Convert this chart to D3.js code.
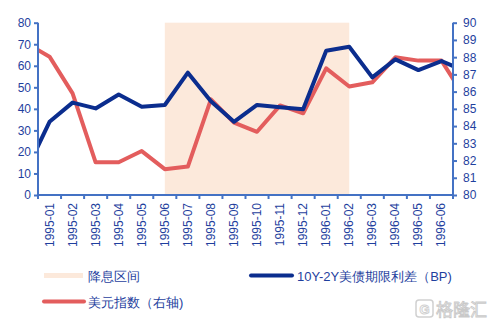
<!DOCTYPE html>
<html><head><meta charset="utf-8">
<script src="https://cdn.jsdelivr.net/npm/d3@7/dist/d3.min.js"></script>
<style>body{margin:0;background:#fff}svg{display:block}</style>
</head><body>
<svg id="c" width="491" height="325"></svg>
<script>
// Categories shown on the axis
const categories = ["1995-01","1995-02","1995-03","1995-04","1995-05","1995-06","1995-07","1995-08","1995-09","1995-10","1995-11","1995-12","1996-01","1996-02","1996-03","1996-04","1996-05","1996-06"];
// Lines continue one month beyond each end (clipped by plot area)
const extCategories = ["1994-12", ...categories, "1996-07"];
const spread = [11.5, 34, 42.9, 40.2, 46.7, 41, 41.8, 56.8, 43.5, 34, 41.8, 40.7, 39.8, 67, 68.8, 54.6, 63, 58, 62.2, 57.6];
const dxy = [88.8, 88.03, 85.9, 81.9, 81.9, 82.55, 81.5, 81.65, 85.55, 84.2, 83.67, 85.2, 84.74, 87.35, 86.3, 86.54, 87.99, 87.8, 87.8, 85.7];
const cutStart = "1995-06", cutEnd = "1996-02";
const leftTicks = [0,10,20,30,40,50,60,70,80];
const rightTicks = [80,81,82,83,84,85,86,87,88,89,90];
const legendLabels = ["降息区间","10Y-2Y美债期限利差（BP)","美元指数（右轴)"];

const svg = d3.select("#c");
const L = 38, R = 453, T = 22.7, B = 195;
const axisColor = "#4472C4", textColor = "#1F3F9E";
const navy = "#0B2D8E", red = "#E35D5D", shade = "#FCE9DB";
const font = "'Liberation Sans', Arial, sans-serif";

const xb = d3.scaleBand().domain(categories).range([L, R]).paddingInner(0).paddingOuter(0);
const bw = xb.bandwidth();
const xPos = c => {
  const i = extCategories.indexOf(c) - 1;
  return L + (i + 0.5) * bw;
};
const yL = d3.scaleLinear().domain([0, 80]).range([B, T]);
const yR = d3.scaleLinear().domain([80, 90]).range([B, T]);

svg.append("defs").append("clipPath").attr("id","clip")
  .append("rect").attr("x", L).attr("y", T - 5).attr("width", R - L).attr("height", B - T + 10);

// shading
svg.append("rect").attr("x", xPos(cutStart)).attr("y", yL(80))
  .attr("width", xPos(cutEnd) - xPos(cutStart)).attr("height", yL(0) - yL(80))
  .attr("fill", shade);

const g = svg.append("g").attr("clip-path", "url(#clip)");
const lineL = d3.line().x((d,i) => xPos(extCategories[i])).y(d => yL(d));
const lineR = d3.line().x((d,i) => xPos(extCategories[i])).y(d => yR(d));
g.append("path").datum(dxy).attr("d", lineR).attr("fill","none").attr("stroke", red).attr("stroke-width", 4).attr("stroke-linejoin","round");
g.append("path").datum(spread).attr("d", lineL).attr("fill","none").attr("stroke", navy).attr("stroke-width", 4).attr("stroke-linejoin","round");

// left axis
const ax = svg.append("g").attr("transform", `translate(${L},0)`)
  .call(d3.axisLeft(yL).tickValues(leftTicks).tickSize(4).tickPadding(3));
const ar = svg.append("g").attr("transform", `translate(${R},0)`)
  .call(d3.axisRight(yR).tickValues(rightTicks).tickSize(4).tickPadding(6));
[ax, ar].forEach(a => {
  a.select(".domain").attr("stroke", axisColor).attr("stroke-width", 2).attr("d", `M0,${T}V${B}`);
  a.selectAll(".tick line").attr("stroke", axisColor).attr("stroke-width", 2);
  a.selectAll(".tick text").attr("fill", textColor).attr("font-size", 12).attr("font-family", font);
});

// bottom axis: ticks at band boundaries, labels at band centers
const bx = svg.append("g").attr("transform", `translate(0,${B})`);
bx.append("line").attr("x1", L).attr("x2", R).attr("stroke", axisColor).attr("stroke-width", 2);
const bounds = categories.map(c => xb(c)).concat([R]);
bx.selectAll("line.tk").data(bounds).join("line").attr("class","tk")
  .attr("x1", d => d).attr("x2", d => d).attr("y1", 0).attr("y2", 4)
  .attr("stroke", axisColor).attr("stroke-width", 2);
bx.selectAll("text").data(categories).join("text")
  .attr("transform", d => `translate(${xb(d) + bw/2 + 4},8) rotate(-90)`)
  .attr("text-anchor", "end").attr("fill", textColor).attr("font-size", 12).attr("font-family", font)
  .text(d => d);

// legend
const lg = svg.append("g").attr("font-family", font).attr("font-size", 13).attr("fill", textColor);
lg.append("line").attr("x1", 44).attr("x2", 83).attr("y1", 275.5).attr("y2", 275.5).attr("stroke", shade).attr("stroke-width", 5);
lg.append("text").attr("x", 88).attr("y", 280.5).text(legendLabels[0]);
lg.append("line").attr("x1", 251).attr("x2", 292).attr("y1", 275.5).attr("y2", 275.5).attr("stroke", navy).attr("stroke-width", 4).attr("stroke-linecap","round");
lg.append("text").attr("x", 297).attr("y", 280.5).text(legendLabels[1]);
lg.append("line").attr("x1", 44).attr("x2", 84).attr("y1", 301.5).attr("y2", 301.5).attr("stroke", red).attr("stroke-width", 4).attr("stroke-linecap","round");
lg.append("text").attr("x", 88).attr("y", 306.5).text(legendLabels[2]);

// watermark
const wm = svg.append("g").attr("opacity", 0.45);
wm.append("rect").attr("x", 416).attr("y", 300).attr("width", 17).attr("height", 17).attr("rx", 3)
  .attr("fill", "none").attr("stroke", "#999").attr("stroke-width", 1.5);
wm.append("text").attr("x", 424.5).attr("y", 313.5).attr("text-anchor","middle").attr("font-size", 13).attr("font-weight","bold")
  .attr("font-family", font).attr("fill", "none").attr("stroke", "#999").attr("stroke-width", 1).text("G");
wm.append("text").attr("x", 436).attr("y", 316).attr("font-size", 17).attr("font-family", "'Noto Sans CJK SC', sans-serif")
  .attr("fill", "#fff").attr("stroke", "#888").attr("stroke-width", 0.9).text("格隆汇");
</script>
</body></html>
